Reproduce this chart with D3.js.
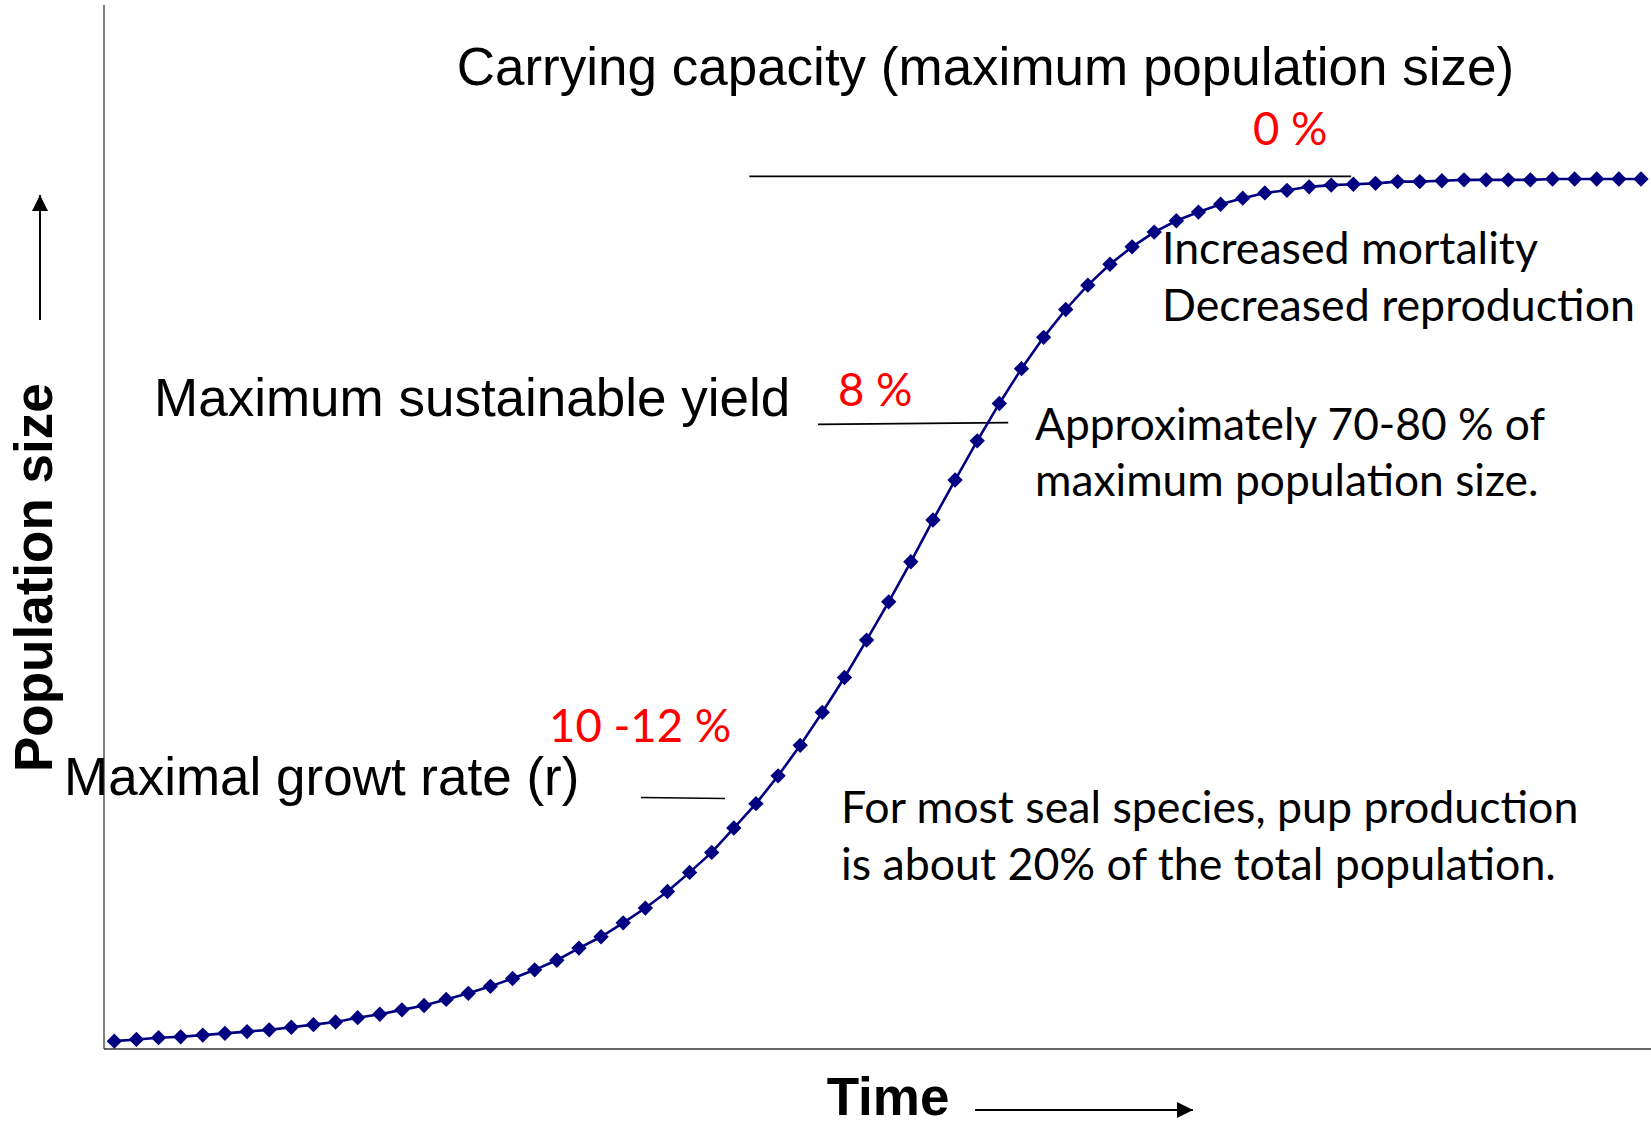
<!DOCTYPE html>
<html>
<head>
<meta charset="utf-8">
<script src="https://cdn.jsdelivr.net/npm/d3@7"></script>
<style>
  html, body { margin: 0; padding: 0; background: #fff; }
  svg { display: block; }
  .arial { font-family: "Liberation Sans", Arial, sans-serif; }
  .calibri { font-family: Lato, "Noto Sans", sans-serif; }
</style>
</head>
<body>
<svg id="chart"></svg>
<script>
// population over time (logistic growth)
const time_steps = d3.range(0, 70);
const population = [
  0.9, 1.1, 1.3, 1.4, 1.6, 1.8, 2.0, 2.2, 2.5, 2.8,
  3.1, 3.6, 4.0, 4.5, 5.0, 5.7, 6.4, 7.2, 8.1, 9.1,
  10.2, 11.6, 12.9, 14.5, 16.2, 18.1, 20.3, 22.6, 25.4, 28.2,
  31.4, 34.9, 38.7, 42.7, 47.0, 51.4, 56.0, 60.8, 65.4, 69.9,
  74.2, 78.2, 81.8, 85.0, 87.8, 90.2, 92.2, 93.9, 95.2, 96.2,
  97.1, 97.8, 98.4, 98.7, 99.1, 99.3, 99.4, 99.5, 99.7, 99.7,
  99.8, 99.9, 99.9, 99.9, 99.9, 100.0, 100.0, 100.0, 100.0, 100.0
];

// annotation marker lines [t0, p0, t1, p1]
const capacity_line = [28.7, 100.3, 55.9, 100.3];
const msy_line = [31.8, 71.8, 40.4, 72.0];
const growth_line = [23.8, 28.9, 27.6, 28.8];

const rate_labels = ["0 %", "8 %", "10 -12 %"];
const title_text = "Carrying capacity (maximum population size)";
const msy_text = "Maximum sustainable yield";
const growth_text = "Maximal growt rate (r)";
const capacity_notes = ["Increased mortality", "Decreased reproduction"];
const msy_notes = ["Approximately 70-80 % of", "maximum population size."];
const pup_notes = ["For most seal species, pup production", "is about 20% of the total population."];

const width = 1651, height = 1124;
const svg = d3.select("#chart").attr("width", width).attr("height", height);

const axis_x = 104, axis_y = 1049, axis_top = 5;

const x = d3.scaleLinear().domain([0, 69]).range([114.3, 1641]);
const y = d3.scaleLinear().domain([0, 120]).range([axis_y, axis_top]);

// axes (plain lines, no ticks)
svg.append("line")
  .attr("x1", axis_x).attr("x2", axis_x)
  .attr("y1", axis_top).attr("y2", axis_y)
  .attr("stroke", "#555").attr("stroke-width", 1.5);
svg.append("line")
  .attr("x1", axis_x).attr("x2", width)
  .attr("y1", axis_y).attr("y2", axis_y)
  .attr("stroke", "#333").attr("stroke-width", 1.5);

// annotation lines
[capacity_line, msy_line, growth_line].forEach(function(l) {
  svg.append("line")
    .attr("x1", x(l[0])).attr("y1", y(l[1]))
    .attr("x2", x(l[2])).attr("y2", y(l[3]))
    .attr("stroke", "#000").attr("stroke-width", 1.6);
});

// series
const series = time_steps.map((t, i) => ({t: t, p: population[i]}));

svg.append("path")
  .datum(series)
  .attr("fill", "none")
  .attr("stroke", "#000080")
  .attr("stroke-width", 2.6)
  .attr("d", d3.line().x(d => x(d.t)).y(d => y(d.p)));

const diamond = d3.symbol().type(d3.symbolSquare).size(118);
svg.append("g").selectAll("path")
  .data(series)
  .join("path")
  .attr("d", diamond)
  .attr("fill", "#000080")
  .attr("transform", d => "translate(" + x(d.t) + "," + y(d.p) + ") rotate(45)");

// texts
function add_text(txt, px, py, cls, size, color, weight) {
  return svg.append("text")
    .attr("class", cls)
    .attr("x", px).attr("y", py)
    .attr("font-size", size)
    .attr("font-weight", weight || "normal")
    .attr("fill", color || "#000")
    .text(txt);
}

add_text(title_text, 456.7, 85, "arial", 53);
add_text(msy_text, 154, 415.7, "arial", 53);
add_text(growth_text, 64, 795, "arial", 53);

add_text(rate_labels[0], 1253, 145, "calibri", 45.5, "#ff0000");
add_text(rate_labels[1], 838, 406, "calibri", 45.5, "#ff0000");
add_text(rate_labels[2], 549, 742, "calibri", 45.5, "#ff0000");

capacity_notes.forEach((t, i) => add_text(t, 1162, 264 + i * 57, "calibri", 44.7));
msy_notes.forEach((t, i) => add_text(t, 1035, 440 + i * 56, "calibri", 44.3));
pup_notes.forEach((t, i) => add_text(t, 841, 823 + i * 57, "calibri", 44.7));

// axis titles
svg.append("text")
  .attr("class", "arial")
  .attr("transform", "translate(51.7,772) rotate(-90)")
  .attr("font-size", 53)
  .attr("font-weight", "bold")
  .text("Population size");
add_text("Time", 826.7, 1115, "arial", 53, "#000", "bold");

// arrows
const defs = svg.append("defs");
defs.append("marker")
  .attr("id", "head")
  .attr("viewBox", "0 0 16 16")
  .attr("refX", 16).attr("refY", 8)
  .attr("markerWidth", 16).attr("markerHeight", 16)
  .attr("markerUnits", "userSpaceOnUse")
  .attr("orient", "auto")
  .append("path")
  .attr("d", "M0,0 L16,8 L0,16 Z")
  .attr("fill", "#000");

svg.append("line")
  .attr("x1", 40).attr("y1", 320).attr("x2", 40).attr("y2", 195)
  .attr("stroke", "#000").attr("stroke-width", 2)
  .attr("marker-end", "url(#head)");
svg.append("line")
  .attr("x1", 975).attr("y1", 1110).attr("x2", 1193).attr("y2", 1110)
  .attr("stroke", "#000").attr("stroke-width", 2)
  .attr("marker-end", "url(#head)");
</script>
</body>
</html>
